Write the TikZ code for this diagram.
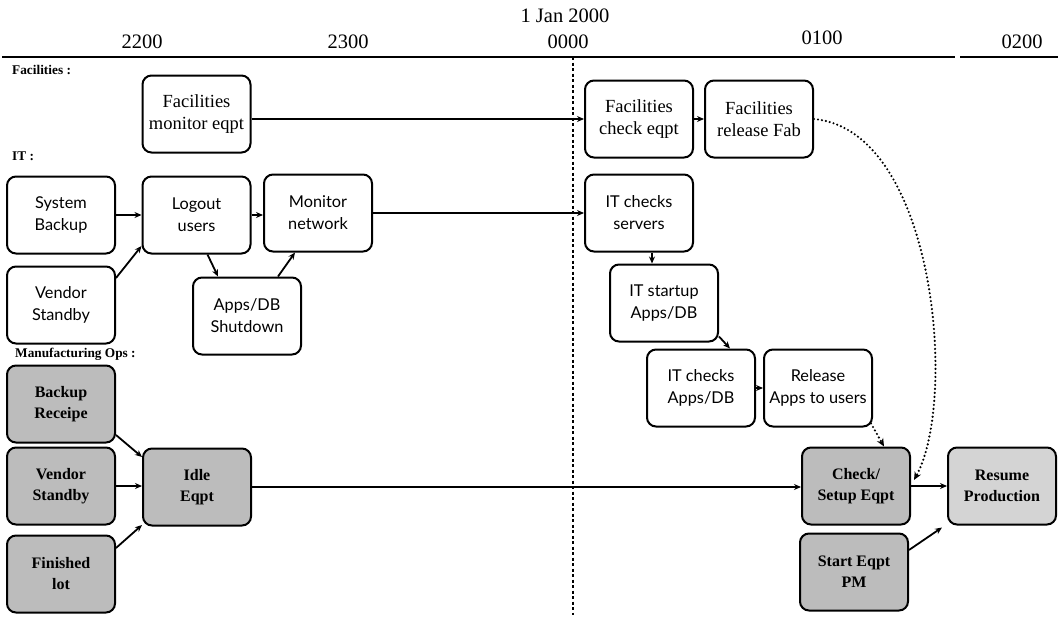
\documentclass[tikz,border=0pt]{standalone}
\usepackage{fontspec}
\setmainfont{Liberation Serif}
\newfontfamily\itsans{Lato}
\usetikzlibrary{arrows.meta,calc}
\definecolor{mfggray}{RGB}{188,188,188}
\definecolor{resumegray}{RGB}{212,212,212}
\tikzset{
  task/.style={draw, line width=2pt, rounded corners=9pt,
    minimum width=108pt, minimum height=77pt, inner sep=2pt, align=center,
    font=\fontsize{18.5}{22}\selectfont},
  itbox/.style={task, font=\itsans\fontsize{16.3}{22}\selectfont},
  mfgbox/.style={task, fill=mfggray, font=\bfseries\fontsize{16}{21}\selectfont},
  flow/.style={line width=1.8pt, -{Stealth[length=7pt,width=6pt]}},
  dotflow/.style={line width=2.4pt, line cap=round, dash pattern=on 0pt off 4pt,
    -{Stealth[length=8pt,width=7pt]}},
  lanelabel/.style={anchor=base west, inner sep=0pt, font=\bfseries\fontsize{13.3}{15}\selectfont},
  hour/.style={anchor=base, inner sep=0pt, font=\fontsize{20.5}{24}\selectfont}
}
\begin{document}
\begin{tikzpicture}[x=1pt,y=-1pt]
\useasboundingbox (0,0) rectangle (1058,621);

% time axis
\node[hour] (date) at (565,23) {1 Jan 2000};
\node[hour] (h22) at (142,48) {2200};
\node[hour] (h23) at (348,48) {2300};
\node[hour] (h00) at (568,48) {0000};
\node[hour] (h01) at (822,44) {0100};
\node[hour] (h02) at (1022,48) {0200};
\coordinate (axL) at (2,57);
\coordinate (axM) at (955,57);
\coordinate (axN) at (960,57);
\coordinate (axR) at (1058,57);
\draw[line width=2pt] (axL) -- (axM);
\draw[line width=2pt] (axN) -- (axR);
\coordinate (midTop) at (573,57);
\coordinate (midBot) at (573,615);
\draw[line width=1.2pt, dash pattern=on 3pt off 2.5pt] (midTop) -- (midBot);

% lane labels
\node[lanelabel] (lfac) at (12,74) {Facilities :};
\node[lanelabel] (lit) at (12,160) {IT :};
\node[lanelabel] (lmfg) at (15,357) {Manufacturing Ops :};

% facilities
\node[task] (fme) at (196.5,114) {Facilities\\monitor eqpt};
\node[task] (fce) at (639,119) {Facilities\\check eqpt};
\node[task] (frf) at (759,119) {Facilities\\release Fab};

% IT
\node[itbox] (sb)  at (61,215) {System\\Backup};
\node[itbox] (lu)  at (196.5,215) {Logout\\users};
\node[itbox] (mn)  at (318,213) {Monitor\\network};
\node[itbox] (vs)  at (61,305) {Vendor\\Standby};
\node[itbox] (ads) at (247,316) {Apps/DB\\Shutdown};
\node[itbox] (its) at (639,213) {IT checks\\servers};
\node[itbox] (isu) at (664,303) {IT startup\\Apps/DB};
\node[itbox] (ica) at (701,388) {IT checks\\Apps/DB};
\node[itbox] (rau) at (818,388) {Release\\Apps to users};

% manufacturing
\node[mfgbox] (br)  at (61,404) {Backup\\Receipe};
\node[mfgbox] (vsm) at (61,486) {Vendor\\Standby};
\node[mfgbox] (ie)  at (197,487) {Idle\\Eqpt};
\node[mfgbox] (fl)  at (61,574) {Finished\\lot};
\node[mfgbox] (cse) at (856,486) {Check/\\Setup Eqpt};
\node[mfgbox] (sep) at (854,572) {Start Eqpt\\PM};
\node[mfgbox, fill=resumegray] (rp) at (1002,486) {Resume\\Production};

% facilities flow
\draw[flow] (fme.east |- fce.west) -- (fce.west);
\draw[flow] (fce.east) -- (frf.west);
\draw[dotflow] (frf.east) .. controls (935,130) and (958,400) .. ([xshift=3pt,yshift=6pt]cse.east);

% IT flow
\draw[flow] (sb.east) -- (lu.west);
\draw[flow] ([yshift=27pt]vs.east) -- ([yshift=-31pt]lu.west);
\draw[flow] (lu.east) -- (mn.west |- lu.east);
\draw[flow] ([xshift=11pt]lu.south) -- ([xshift=-29pt]ads.north);
\draw[flow] ([xshift=31pt]ads.north) -- ([xshift=-23pt]mn.south);
\draw[flow] (mn.east) -- (its.west);
\draw[flow] ([xshift=13pt]its.south) -- ([xshift=-12pt]isu.north);
\draw[flow] ([yshift=6pt]isu.south east) -- ([xshift=29pt]ica.north);
\draw[flow] (ica.east) -- (rau.west);
\draw[dotflow] ([xshift=-2pt,yshift=4pt]rau.south east) -- ([xshift=28pt]cse.north);

% manufacturing flow
\draw[flow] ([yshift=-31pt]br.east) -- ([yshift=30pt]ie.west);
\draw[flow] (vsm.east) -- (ie.west |- vsm.east);
\draw[flow] ([yshift=26pt]fl.east) -- ([yshift=-38pt]ie.west);
\draw[flow] (ie.east) -- (cse.west |- ie.east);
\draw[flow] (cse.east) -- (rp.west |- cse.east);
\draw[flow] ([yshift=22pt]sep.east) -- ([xshift=-5pt,yshift=-2pt]rp.south west);
\end{tikzpicture}
\end{document}
